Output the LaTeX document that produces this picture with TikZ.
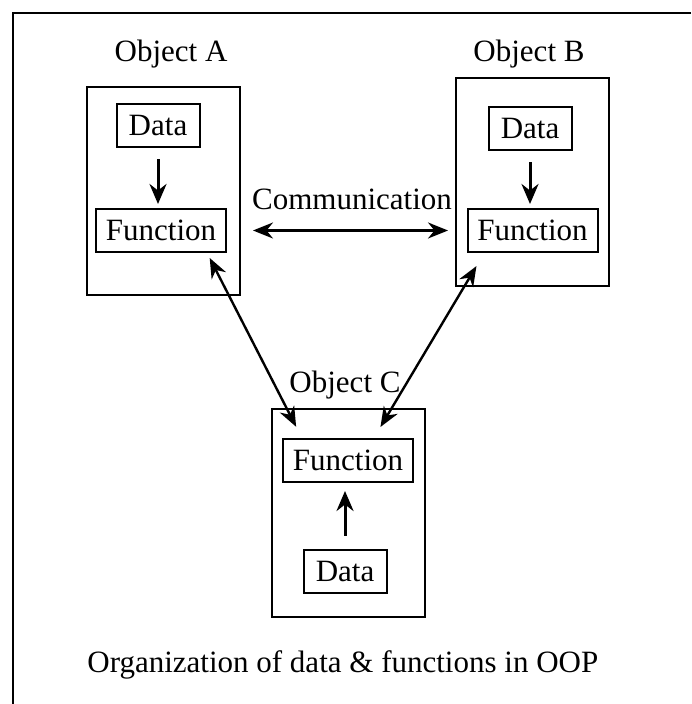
\documentclass[tikz,border=0pt]{standalone}
\usepackage{fontspec}
\setmainfont{Liberation Serif}
\usetikzlibrary{arrows.meta}
\tikzstyle{object} = [rectangle,
minimum width=76.5pt,
minimum height=104pt,
inner sep=0pt,
draw=black,
line width=1pt]
\tikzstyle{part} = [rectangle,
minimum height=21.5pt,
inner sep=0pt,
text centered,
draw=black,
line width=1pt]
\tikzstyle{data} = [part, minimum width=41.5pt]
\tikzstyle{fun} = [part, minimum width=65pt]
\tikzstyle{title} = [anchor=base]
\tikzstyle{arrow} = [line width=1.5pt,-{Stealth[length=10pt,width=8.5pt]}]
\tikzstyle{link} = [line width=1.2pt,{Stealth[length=10pt,width=8pt]}-{Stealth[length=10pt,width=8pt]}]

\begin{document}
\begin{tikzpicture}[x=0.5pt,y=-0.5pt,font=\fontsize{15.5}{18}\selectfont]
				\useasboundingbox (0,0) rectangle (691,704);
				\draw[line width=1.2pt] (691,13) -- (13,13) -- (13,704);

				\node[object] (obj-a) at (163.5,191) {};
				\node[object] (obj-b) at (532.5,182) {};
				\node[object] (obj-c) at (348,513) {};
				\node[title] (t-a) at (171,62) {Object A};
				\node[title] (t-b) at (529,62) {Object B};
				\node[title] (t-c) at (345,393) {Object C};

				\node[data] (data-a) at (158,126) {Data};
				\node[fun] (fun-a) at (161,230.5) {Function};
				\node[data] (data-b) at (530,129) {Data};
				\node[fun] (fun-b) at (532.5,230.5) {Function};
				\node[fun] (fun-c) at (348,460.5) {Function};
				\node[data] (data-c) at (345,571) {Data};

				\node[title] (comm) at (352,210) {Communication};
				\node[anchor=base west,inner sep=0pt] (caption) at (87,672) {Organization of data \& functions in OOP};

				\draw[arrow,shorten <=5.5pt,shorten >=2pt] (data-a) -- (data-a |- fun-a.north);
				\draw[arrow,shorten <=5.5pt,shorten >=2pt] (data-b) -- (data-b |- fun-b.north);
				\draw[arrow,shorten <=6.5pt,shorten >=4pt] (data-c) -- (data-c |- fun-c.south);
				\draw[link,shorten <=6pt,shorten >=3.5pt] (obj-a.east |- fun-a) -- (obj-b.west |- fun-b);
				\draw[link,shorten <=2.8pt,shorten >=6.3pt] (fun-a.-26) -- (fun-c.154);
				\draw[link,shorten <=7.6pt,shorten >=6.4pt] (fun-b.205) -- (fun-c.41.5);
			\end{tikzpicture}
\end{document}
